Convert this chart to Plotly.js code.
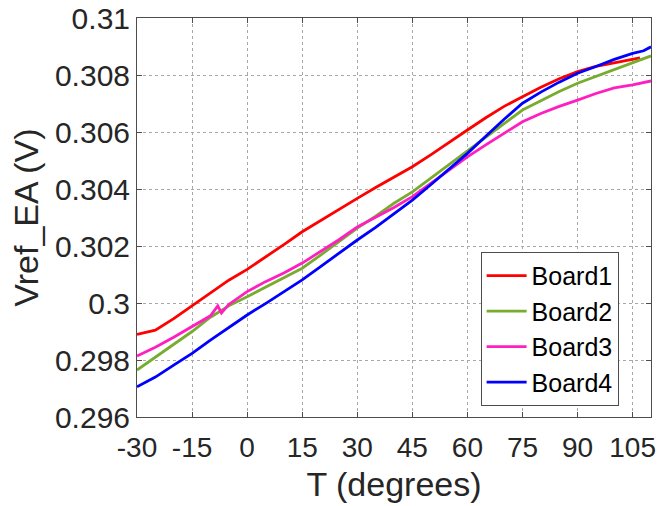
<!DOCTYPE html>
<html>
<head>
<meta charset="utf-8">
<script src="https://cdn.plot.ly/plotly-3.0.1.min.js"></script>
<style>html,body{margin:0;padding:0;background:#fff;}#chart{width:659px;height:506px;}</style>
</head>
<body>
<div id="chart"></div>
<script>
var temps1 = [-30,-25,-20,-15,-10,-5,0,5,10,15,20,25,30,35,40,45,50,55,60,65,70,75,80,85,90,95,100,105,107];
var board1 = [0.29890,0.29905,0.29945,0.29990,0.30035,0.30080,0.30118,0.30160,0.30205,0.30250,0.30290,0.30328,0.30367,0.30405,0.30440,0.30478,0.30520,0.30565,0.30607,0.30650,0.30690,0.30724,0.30757,0.30787,0.30812,0.30830,0.30843,0.30855,0.30860];

var temps2 = [-30,-25,-20,-15,-10,-5,0,5,10,15,20,25,30,35,40,45,50,55,60,65,70,75,80,85,90,95,100,105,110];
var board2 = [0.29765,0.29810,0.29855,0.29900,0.29950,0.29990,0.30022,0.30055,0.30090,0.30122,0.30168,0.30215,0.30263,0.30305,0.30350,0.30390,0.30438,0.30485,0.30531,0.30580,0.30630,0.30677,0.30710,0.30742,0.30771,0.30795,0.30818,0.30841,0.30867];

var temps3 = [-30,-25,-20,-15,-10,-8,-7,-5,0,5,10,15,20,25,30,35,40,45,50,55,60,65,70,75,80,85,90,95,100,105,110];
var board3 = [0.29814,0.29845,0.29880,0.29917,0.29955,0.29990,0.29965,0.29995,0.30040,0.30075,0.30105,0.30140,0.30180,0.30222,0.30267,0.30300,0.30335,0.30373,0.30420,0.30466,0.30513,0.30555,0.30597,0.30636,0.30665,0.30690,0.30712,0.30735,0.30755,0.30765,0.30779];

var temps4 = [-30,-25,-20,-15,-10,-5,0,5,10,15,20,25,30,35,40,45,50,55,60,65,70,75,80,85,90,95,100,105,108,110];
var board4 = [0.29706,0.29740,0.29782,0.29823,0.29870,0.29915,0.29958,0.29998,0.30040,0.30081,0.30128,0.30175,0.30221,0.30265,0.30312,0.30361,0.30415,0.30470,0.30525,0.30585,0.30645,0.30701,0.30740,0.30775,0.30806,0.30830,0.30855,0.30876,0.30885,0.30899];

var seriesNames = ["Board1","Board2","Board3","Board4"];
var xTickVals = [-30,-15,0,15,30,45,60,75,90,105];
var xTickText = ["-30","-15","0","15","30","45","60","75","90","105"];
var yTickVals = [0.296,0.298,0.300,0.302,0.304,0.306,0.308,0.310];
var yTickText = ["0.296","0.298","0.3","0.302","0.304","0.306","0.308","0.31"];

var colors = ["#ff0000","#77ac30","#ff1fc0","#0000ff"];
var xs = [temps1,temps2,temps3,temps4];
var ys = [board1,board2,board3,board4];

var traces = seriesNames.map(function(n,i){
  return {x: xs[i], y: ys[i], name: n, type: "scatter", mode: "lines",
          line: {color: colors[i], width: 2.8, shape: "linear"}};
});

var fontFam = "Liberation Sans, Arial, Helvetica, sans-serif";
var axisCommon = {
  showline: true, linecolor: "#4d4d4d", linewidth: 1, mirror: "ticks",
  ticks: "inside", ticklen: 5, tickcolor: "#4d4d4d",
  showgrid: true, gridcolor: "#a8a8a8", griddash: "dot", gridwidth: 1,
  zeroline: false
};

var layout = {
  width: 659, height: 506,
  margin: {l: 137, r: 8, t: 18, b: 89},
  paper_bgcolor: "#ffffff", plot_bgcolor: "#ffffff",
  showlegend: true,
  xaxis: Object.assign({}, axisCommon, {
    range: [-30, 110], tickmode: "array", tickvals: xTickVals, ticktext: xTickText,
    tickfont: {family: fontFam, size: 28, color: "#262626"},
    ticklabelstandoff: 5,
    title: {text: "T (degrees)", font: {family: fontFam, size: 34, color: "#262626"}, standoff: 10}
  }),
  yaxis: Object.assign({}, axisCommon, {
    range: [0.296, 0.310], tickmode: "array", tickvals: yTickVals, ticktext: yTickText,
    tickfont: {family: fontFam, size: 30, color: "#262626"},
    title: {text: "Vref_EA (V)", font: {family: fontFam, size: 34, color: "#262626"}, standoff: 6}
  }),
  legend: {
    x: 0.937, y: 0.028, xanchor: "right", yanchor: "bottom",
    bgcolor: "#ffffff", bordercolor: "#4d4d4d", borderwidth: 1,
    font: {family: fontFam, size: 25, color: "#000000"},
    itemwidth: 40, tracegroupgap: 0
  }
};

Plotly.newPlot("chart", traces, layout, {displayModeBar: false, staticPlot: true});
</script>
</body>
</html>
